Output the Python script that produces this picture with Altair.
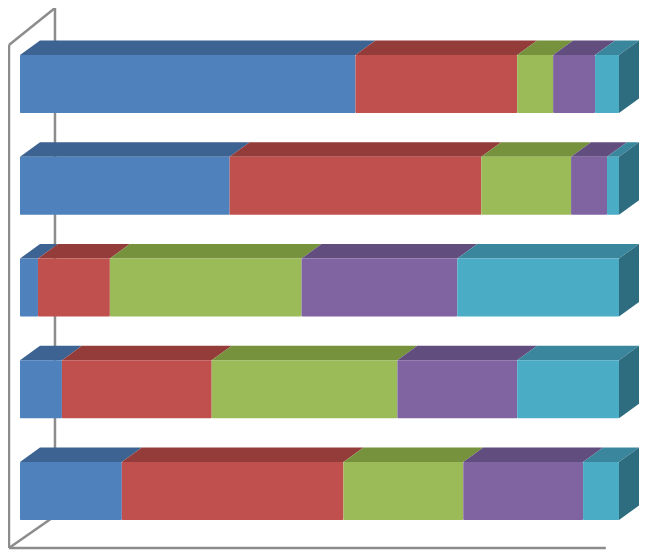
import altair as alt
import pandas as pd

# Categories, top to bottom
categories = ["Category 1", "Category 2", "Category 3", "Category 4", "Category 5"]
series = ["Series 1", "Series 2", "Series 3", "Series 4", "Series 5"]

# Percent shares per series (100% stacked)
s1 = [56, 35, 3, 7, 17]
s2 = [27, 42, 12, 25, 37]
s3 = [6, 15, 32, 31, 20]
s4 = [7, 6, 26, 20, 20]
s5 = [4, 2, 27, 17, 6]
values = [s1, s2, s3, s4, s5]

front_colors = ["#4F81BD", "#C0504D", "#9BBB59", "#8064A2", "#4BACC6"]
top_colors = ["#3C6392", "#943C39", "#76923D", "#624D7F", "#3A879D"]
side_color = "#2E6D7F"
frame_color = "#8C8C8C"

# 3D styling (in scale units)
DX = 3.34     # depth offset along x (percent units)
DY = 0.1425   # depth offset along y (row units)
HALF = 0.285  # half-thickness of a bar (row units)

front_rows, top_rows, side_rows = [], [], []
for i, cat in enumerate(categories):
    cum = 0.0
    for j, ser in enumerate(series):
        v = values[j][i]
        x0, x1 = cum, cum + v
        cum = x1
        key = f"{cat}|{ser}"
        front_rows.append(dict(cat=cat, ser=ser, key=key, x=x0, x2=x1,
                               y=i - HALF, y2=i + HALF, color=front_colors[j]))
        top_rows.append(dict(key=key, y=i - HALF, x=x0, x2=x1, color=top_colors[j]))
        top_rows.append(dict(key=key, y=i - HALF - DY, x=x0 + DX, x2=x1 + DX,
                             color=top_colors[j]))
    side_rows.append(dict(key=cat, x=cum, y=i - HALF, y2=i + HALF))
    side_rows.append(dict(key=cat, x=cum + DX, y=i - HALF - DY, y2=i + HALF - DY))

# Chart walls (axis frame)
wall_front_x = -1.84
wall_back_x = 5.84
floor_end_x = 97.8
wall_top_front_y = -0.383
wall_top_back_y = -0.747
wall_bottom_front_y = 4.56
wall_bottom_back_y = 4.246
frame = pd.DataFrame([
    dict(x=wall_back_x, x2=wall_back_x, y=wall_top_back_y, y2=wall_bottom_back_y),
    dict(x=wall_front_x, x2=wall_back_x, y=wall_top_front_y, y2=wall_top_back_y),
    dict(x=wall_front_x, x2=wall_front_x, y=wall_top_front_y, y2=wall_bottom_front_y),
    dict(x=wall_front_x, x2=wall_back_x, y=wall_bottom_front_y, y2=wall_bottom_back_y),
    dict(x=wall_front_x, x2=floor_end_x, y=wall_bottom_front_y, y2=wall_bottom_front_y),
])

W, H = 646, 542
# pixel-calibrated scale domains (reference: x 0 -> page 20, 100 -> page 619; row i centre -> 84 + 101.75 i)
xs = alt.Scale(domain=[-2.003, -2.003 + W * 100 / 599], nice=False, zero=False)
ys = alt.Scale(domain=[-0.747, -0.747 + H / 101.75], nice=False, zero=False, reverse=True)

frame_layer = alt.Chart(frame).mark_rule(color=frame_color, strokeWidth=2.5).encode(
    x=alt.X("x:Q", scale=xs, axis=None),
    x2="x2:Q",
    y=alt.Y("y:Q", scale=ys, axis=None),
    y2="y2:Q",
)

front_layer = alt.Chart(pd.DataFrame(front_rows)).mark_rect(cornerRadius=1).encode(
    x=alt.X("x:Q", scale=xs, axis=None),
    x2="x2:Q",
    y=alt.Y("y:Q", scale=ys, axis=None),
    y2="y2:Q",
    color=alt.Color("color:N", scale=None),
)

top_layer = alt.Chart(pd.DataFrame(top_rows)).mark_area(orient="horizontal").encode(
    y=alt.Y("y:Q", scale=ys, axis=None),
    x=alt.X("x:Q", scale=xs, axis=None, stack=None),
    x2="x2:Q",
    detail="key:N",
    color=alt.Color("color:N", scale=None),
)

side_layer = alt.Chart(pd.DataFrame(side_rows)).mark_area(orient="vertical", color=side_color).encode(
    x=alt.X("x:Q", scale=xs, axis=None),
    y=alt.Y("y:Q", scale=ys, axis=None, stack=None),
    y2="y2:Q",
    detail="key:N",
)

chart = alt.layer(frame_layer, top_layer, side_layer, front_layer).properties(
    width=W, height=H, padding=0, autosize="none"
).configure_view(stroke=None)

chart.save("out.html", embed_options={"renderer": "svg", "actions": False})
